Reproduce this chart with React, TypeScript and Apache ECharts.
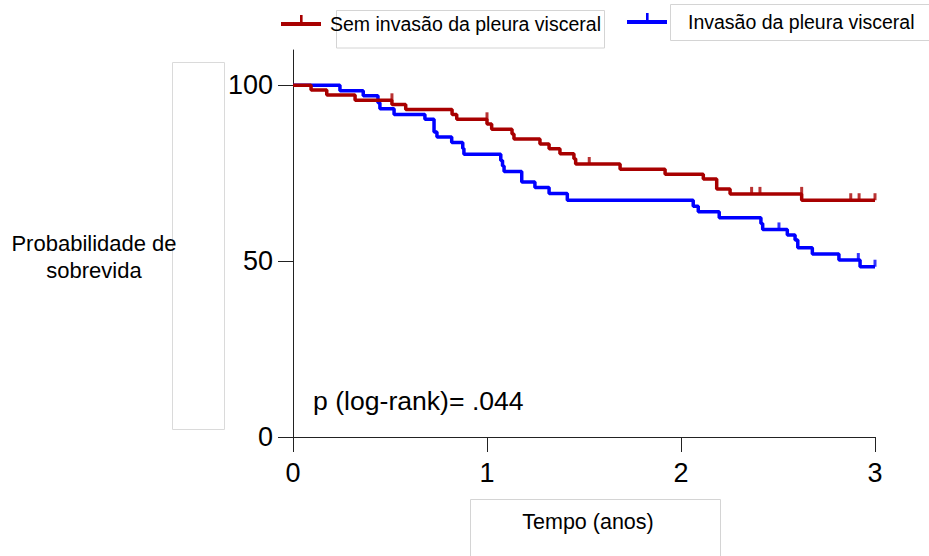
import React, { useEffect, useRef } from "react";
import * as echarts from "echarts";

const FONT = "Liberation Sans, Arial, Helvetica, sans-serif";

const seriesNames = ["Sem invasão da pleura visceral", "Invasão da pleura visceral"];

// Kaplan–Meier step points (time in years, survival %)
const redTimes = [0, 0.093, 0.174, 0.32, 0.51, 0.581, 0.82, 0.844, 1.0, 1.024, 1.129, 1.139, 1.273, 1.32, 1.376, 1.448, 1.457, 1.686, 1.918, 2.115, 2.184, 2.253, 2.622, 3.0];
const redSurv = [100, 98.6, 97.2, 95.7, 94.5, 93.1, 91.7, 90.3, 89.0, 87.5, 86.1, 84.7, 83.3, 81.9, 80.5, 79.1, 77.6, 76.1, 74.7, 73.3, 70.5, 69.1, 67.3, 67.3];
const redCensorTimes = [0.51, 1.0, 1.527, 2.364, 2.407, 2.622, 2.875, 2.918, 3.0];
const redCensorSurv = [95.7, 90.3, 77.6, 69.1, 69.1, 69.1, 67.3, 67.3, 67.3];

const blueTimes = [0, 0.242, 0.362, 0.438, 0.448, 0.521, 0.68, 0.727, 0.742, 0.818, 0.875, 0.881, 1.071, 1.08, 1.088, 1.179, 1.247, 1.32, 1.414, 2.063, 2.089, 2.197, 2.412, 2.421, 2.548, 2.588, 2.602, 2.677, 2.814, 2.923, 3.0];
const blueSurv = [100, 98.4, 97.0, 95.0, 93.3, 91.7, 90.3, 86.7, 85.3, 83.7, 82.0, 80.4, 78.6, 77.0, 75.5, 72.5, 70.9, 69.2, 67.3, 65.6, 64.0, 62.3, 60.7, 59.0, 57.4, 56.0, 53.8, 52.0, 50.3, 48.4, 48.4];
const blueCensorTimes = [2.505, 2.914, 3.0];
const blueCensorSurv = [59.0, 50.3, 48.4];

const xTicks = [0, 1, 2, 3];
const yTicks = [0, 50, 100];

const RED = "#a80000";
const BLUE = "#0000ff";

const legendIcon =
  "path://M0,7 L40,7 L40,11 L0,11 Z M19,0 L21.6,0 L21.6,7 L19,7 Z M20,17.99 L20.01,17.99 L20.01,18 L20,18 Z";
const censorSymbol = "path://M0,0 L1,0 L1,1 L0,1 Z";

export default function App() {
  const ref = useRef<HTMLDivElement>(null);
  useEffect(() => {
    document.body.style.margin = "0";
    if (!ref.current) return;
    const chart = echarts.init(ref.current, null, { renderer: "svg" });
    const zip = (a: number[], b: number[]) => a.map((v, i) => [v, b[i]]);
    const option: any = {
      animation: false,
      backgroundColor: "#ffffff",
      grid: { left: 293, right: 54, top: 50, bottom: 119 },
      legend: [
        {
          data: [{ name: seriesNames[0], icon: legendIcon }],
          left: 276,
          top: 9,
          itemWidth: 40,
          itemHeight: 18,
          selectedMode: false,
          textStyle: { fontSize: 19.5, color: "#000", fontFamily: FONT, padding: [0, 0, 0, 4] },
        },
        {
          data: [{ name: seriesNames[1], icon: legendIcon }],
          left: 622,
          top: 7,
          itemWidth: 40,
          itemHeight: 18,
          selectedMode: false,
          textStyle: { fontSize: 19.5, color: "#000", fontFamily: FONT, padding: [0, 0, 0, 16] },
        },
      ],
      xAxis: {
        type: "value",
        min: 0,
        max: 3,
        interval: 1,
        axisLine: { show: true, lineStyle: { color: "#222", width: 1 } },
        axisTick: { show: true, length: 15, customValues: xTicks, lineStyle: { color: "#222", width: 1 } },
        axisLabel: { customValues: xTicks, fontSize: 27, color: "#000", margin: 22, fontFamily: FONT },
        splitLine: { show: false },
      },
      yAxis: {
        type: "value",
        min: 0,
        max: 110,
        interval: 50,
        axisLine: { show: true, lineStyle: { color: "#222", width: 1 } },
        axisTick: { show: true, length: 15, customValues: yTicks, lineStyle: { color: "#222", width: 1 } },
        axisLabel: { customValues: yTicks, fontSize: 27, color: "#000", margin: 20, fontFamily: FONT },
        splitLine: { show: false },
      },
      series: [
        {
          name: seriesNames[1],
          type: "line",
          step: "end",
          showSymbol: false,
          data: zip(blueTimes, blueSurv),
          color: BLUE,
          lineStyle: { color: BLUE, width: 3.5 },
          z: 2,
        },
        {
          name: seriesNames[1],
          type: "scatter",
          data: zip(blueCensorTimes, blueCensorSurv),
          symbol: censorSymbol,
          symbolSize: [3, 7],
          symbolOffset: [0, -3.5],
          itemStyle: { color: BLUE },
          z: 2,
        },
        {
          name: seriesNames[0],
          type: "line",
          step: "end",
          showSymbol: false,
          data: zip(redTimes, redSurv),
          color: RED,
          lineStyle: { color: RED, width: 3.5 },
          z: 3,
        },
        {
          name: seriesNames[0],
          type: "scatter",
          data: zip(redCensorTimes, redCensorSurv),
          symbol: censorSymbol,
          symbolSize: [3, 7],
          symbolOffset: [0, -3.5],
          itemStyle: { color: RED },
          z: 3,
        },
      ],
      graphic: [
        { type: "rect", shape: { x: 172.5, y: 62.5, width: 52, height: 367 }, style: { fill: "none", stroke: "#dadada", lineWidth: 1 }, z: -1 },
        { type: "rect", shape: { x: 336.5, y: 10.5, width: 268, height: 37.5 }, style: { fill: "none", stroke: "#d4d4d4", lineWidth: 1 }, z: -1 },
        { type: "rect", shape: { x: 670.5, y: 4.5, width: 262, height: 36 }, style: { fill: "none", stroke: "#d4d4d4", lineWidth: 1 }, z: -1 },
        { type: "rect", shape: { x: 470.5, y: 499.5, width: 250, height: 70 }, style: { fill: "none", stroke: "#d4d4d4", lineWidth: 1 }, z: -1 },
        {
          type: "text",
          x: 94,
          y: 257,
          style: { text: "Probabilidade de\nsobrevida", fill: "#000", fontSize: 22, fontFamily: FONT, align: "center", verticalAlign: "middle", lineHeight: 27 },
        },
        {
          type: "text",
          x: 588,
          y: 522,
          style: { text: "Tempo (anos)", fill: "#000", fontSize: 21.5, fontFamily: FONT, align: "center", verticalAlign: "middle" },
        },
        {
          type: "text",
          x: 313,
          y: 401,
          style: { text: "p (log-rank)= .044", fill: "#000", fontSize: 26.6, fontFamily: FONT, align: "left", verticalAlign: "middle" },
        },
      ],
    };
    chart.setOption(option);
    return () => chart.dispose();
  }, []);
  return <div ref={ref} style={{ width: 929, height: 556 }} />;
}
